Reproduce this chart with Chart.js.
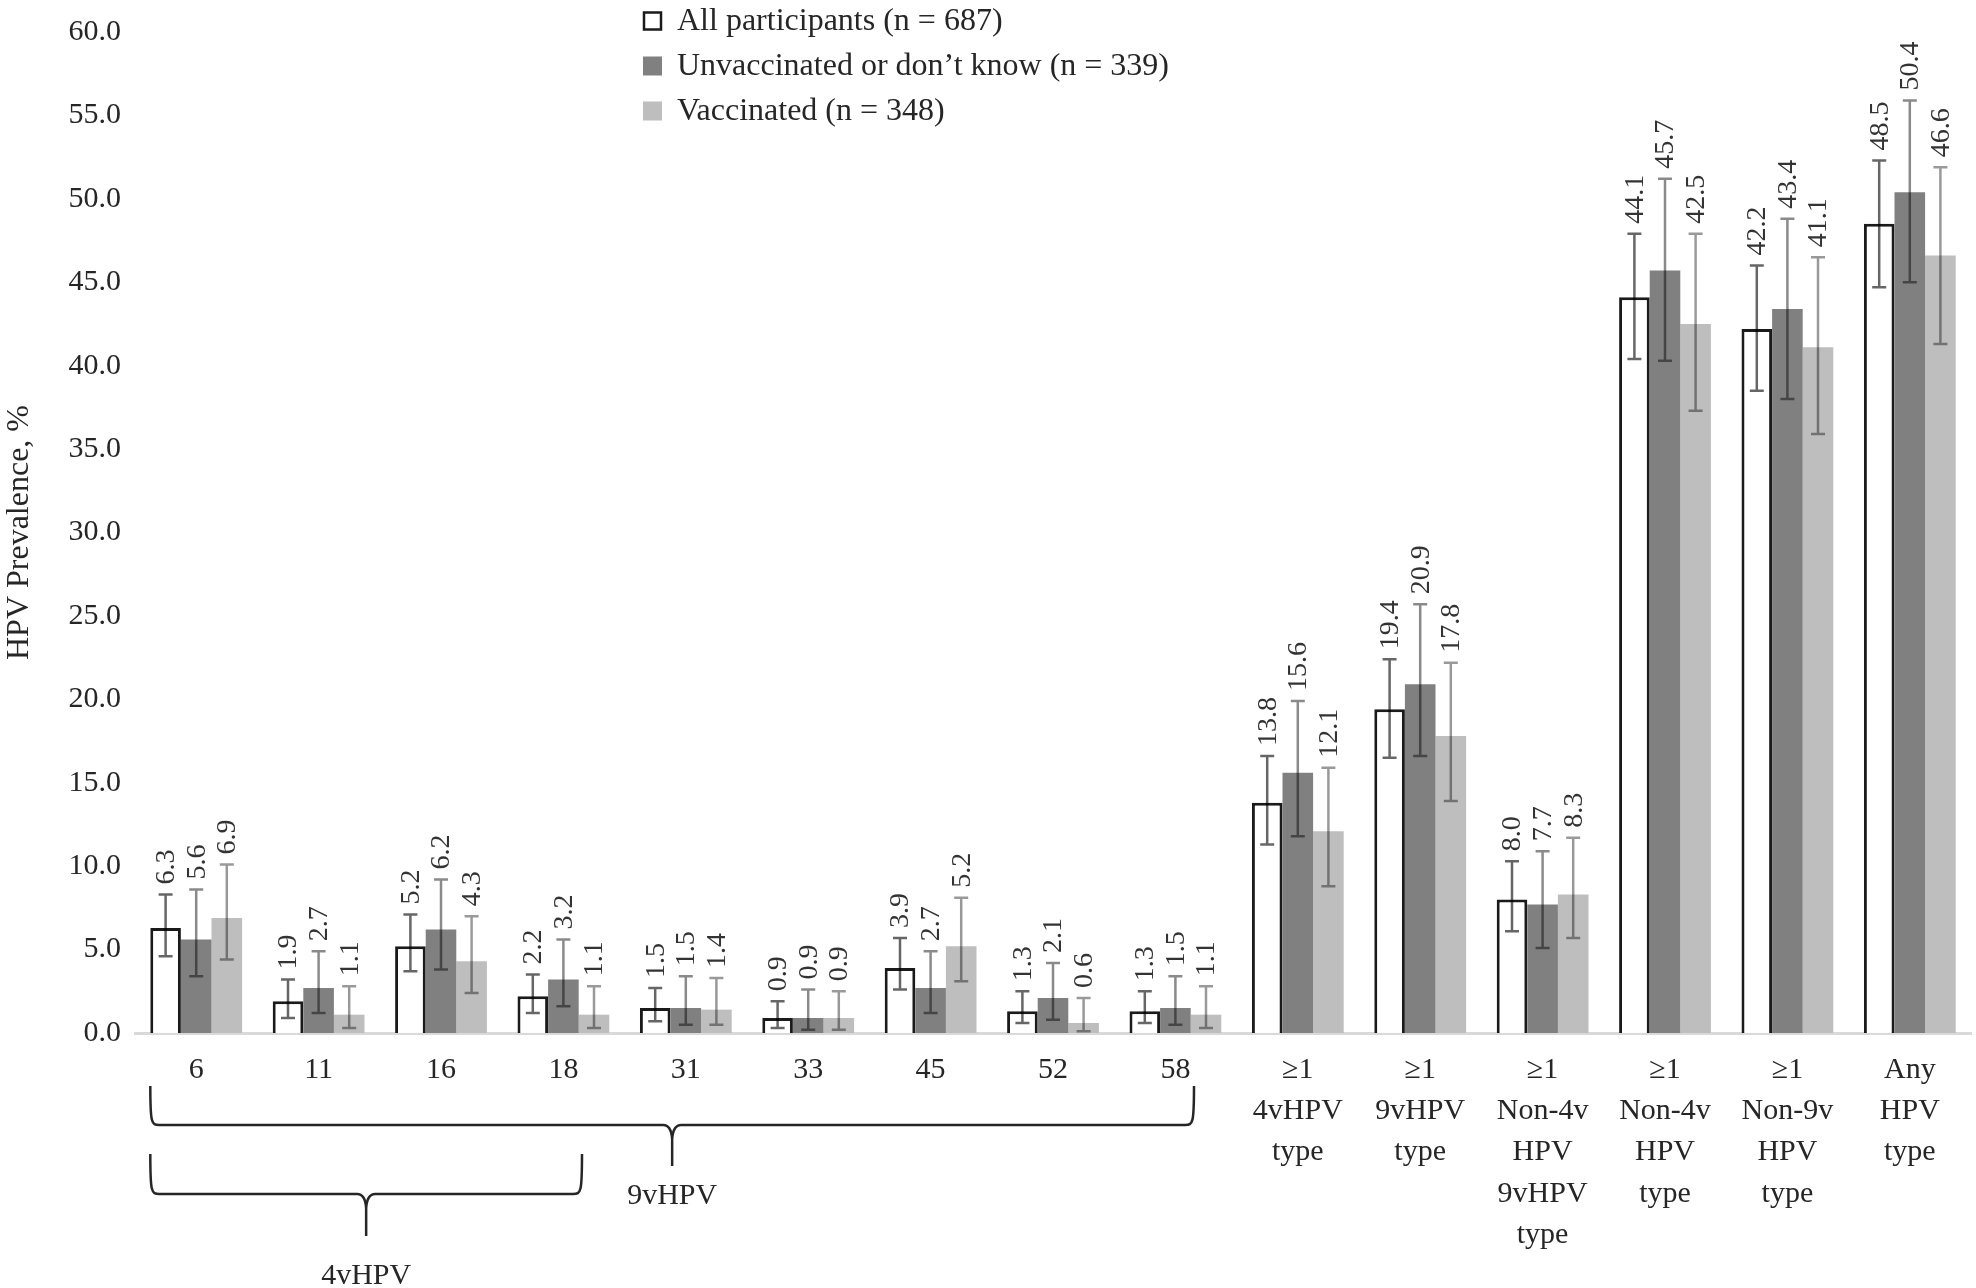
<!DOCTYPE html>
<html>
<head>
<meta charset="utf-8">
<script src="https://cdn.jsdelivr.net/npm/chart.js@4.4.1/dist/chart.umd.min.js"></script>
<style>
html, body { margin: 0; padding: 0; background: #fff; }
</style>
</head>
<body>
<canvas id="chart" width="1976" height="1288"></canvas>
<script>
// categories (multi-line labels as arrays)
const categories = ["6", "11", "16", "18", "31", "33", "45", "52", "58",
    ["≥1", "4vHPV", "type"], ["≥1", "9vHPV", "type"], ["≥1", "Non-4v", "HPV", "9vHPV", "type"],
    ["≥1", "Non-4v", "HPV", "type"], ["≥1", "Non-9v", "HPV", "type"], ["Any", "HPV", "type"]];

const seriesLabels = ["All participants (n = 687)", "Unvaccinated or don’t know (n = 339)", "Vaccinated (n = 348)"];

const allValues   = [6.3, 1.9, 5.2, 2.2, 1.5, 0.9, 3.9, 1.3, 1.3, 13.8, 19.4, 8.0, 44.1, 42.2, 48.5];
const allLow      = [4.6, 0.9, 3.7, 1.2, 0.7, 0.3, 2.6, 0.6, 0.6, 11.3, 16.5, 6.1, 40.4, 38.5, 44.7];
const allHigh     = [8.3, 3.2, 7.1, 3.5, 2.7, 1.9, 5.7, 2.5, 2.5, 16.6, 22.4, 10.3, 47.9, 46.0, 52.3];

const unvaxValues = [5.6, 2.7, 6.2, 3.2, 1.5, 0.9, 2.7, 2.1, 1.5, 15.6, 20.9, 7.7, 45.7, 43.4, 50.4];
const unvaxLow    = [3.4, 1.2, 3.8, 1.6, 0.5, 0.2, 1.2, 0.8, 0.5, 11.8, 16.6, 5.1, 40.3, 38.0, 45.0];
const unvaxHigh   = [8.6, 4.9, 9.2, 5.6, 3.4, 2.6, 4.9, 4.2, 3.4, 19.9, 25.7, 10.9, 51.2, 48.8, 55.9];

const vaxValues   = [6.9, 1.1, 4.3, 1.1, 1.4, 0.9, 5.2, 0.6, 1.1, 12.1, 17.8, 8.3, 42.5, 41.1, 46.6];
const vaxLow      = [4.4, 0.3, 2.4, 0.3, 0.5, 0.2, 3.1, 0.1, 0.3, 8.8, 13.9, 5.7, 37.3, 35.9, 41.3];
const vaxHigh     = [10.1, 2.8, 7.0, 2.8, 3.3, 2.5, 8.1, 2.1, 2.8, 15.9, 22.2, 11.7, 47.9, 46.5, 51.9];

const yTicksMax = 60;
const yTicksStep = 5;

const FONT = '"Liberation Serif", "DejaVu Serif", serif';
const TEXT = '#262626';

// error bars + rotated value labels
const errorBarPlugin = {
    id: 'errorBars',
    afterDatasetsDraw(chart) {
        const ctx = chart.ctx;
        const y = chart.scales.y;
        chart.data.datasets.forEach((ds, i) => {
            const meta = chart.getDatasetMeta(i);
            meta.data.forEach((bar, j) => {
                const lo = y.getPixelForValue(ds.ciLow[j]);
                const hi = y.getPixelForValue(ds.ciHigh[j]);
                ctx.save();
                ctx.strokeStyle = ds.errColor;
                ctx.lineWidth = 2.5;
                ctx.beginPath();
                ctx.moveTo(bar.x, lo); ctx.lineTo(bar.x, hi);
                ctx.moveTo(bar.x - 7, lo); ctx.lineTo(bar.x + 7, lo);
                ctx.moveTo(bar.x - 7, hi); ctx.lineTo(bar.x + 7, hi);
                ctx.stroke();
                ctx.translate(bar.x + 1, hi - 10);
                ctx.rotate(-Math.PI / 2);
                ctx.fillStyle = '#333333';
                ctx.font = '28px ' + FONT;
                ctx.textAlign = 'left';
                ctx.textBaseline = 'middle';
                ctx.fillText(ds.data[j].toFixed(1), 0, 0);
                ctx.restore();
            });
        });
    }
};

// curly braces under the type labels
function drawBrace(ctx, x1, x2, yTop, yMid, yTip) {
    const xm = (x1 + x2) / 2;
    ctx.beginPath();
    ctx.moveTo(x1, yTop);
    ctx.bezierCurveTo(x1, yMid - 2, x1 + 1, yMid, x1 + 9, yMid);
    ctx.lineTo(xm - 9, yMid);
    ctx.quadraticCurveTo(xm - 1, yMid, xm, yMid + 14);
    ctx.lineTo(xm, yTip);
    ctx.moveTo(xm, yMid + 14);
    ctx.quadraticCurveTo(xm + 1, yMid, xm + 9, yMid);
    ctx.lineTo(x2 - 9, yMid);
    ctx.bezierCurveTo(x2 - 1, yMid, x2, yMid - 2, x2, yTop);
    ctx.stroke();
}

const bracePlugin = {
    id: 'braces',
    afterDraw(chart) {
        const ctx = chart.ctx;
        const m0 = chart.getDatasetMeta(0).data;
        const m2 = chart.getDatasetMeta(2).data;
        const left = m0[0].x - m0[0].width / 2;
        ctx.save();
        ctx.strokeStyle = TEXT;
        ctx.lineWidth = 2.5;
        const r9 = m2[8].x - 12;
        const r4 = m2[3].x - 12;
        drawBrace(ctx, left, r9, 1086, 1125, 1166);
        drawBrace(ctx, left, r4, 1154, 1194, 1236);
        ctx.fillStyle = TEXT;
        ctx.font = '30px ' + FONT;
        ctx.textAlign = 'center';
        ctx.textBaseline = 'middle';
        ctx.fillText('9vHPV', (left + r9) / 2, 1196);
        ctx.fillText('4vHPV', (left + r4) / 2, 1276);
        ctx.restore();
    }
};

// legend stacked in three rows at top centre-left
const legendPlugin = {
    id: 'stackLegend',
    afterDraw(chart) {
        const ctx = chart.ctx;
        const x0 = 643, y0 = 21, gap = 45, box = 19;
        ctx.save();
        ctx.font = '32px ' + FONT;
        ctx.textBaseline = 'middle';
        chart.data.datasets.forEach((ds, i) => {
            const yc = y0 + i * gap;
            ctx.fillStyle = ds.backgroundColor;
            ctx.fillRect(x0, yc - box / 2, box, box);
            if (ds.borderWidth) {
                ctx.strokeStyle = ds.borderColor;
                ctx.lineWidth = 2.5;
                ctx.strokeRect(x0 + 1, yc - box / 2 + 1, box - 2, box - 2);
            }
            ctx.fillStyle = TEXT;
            ctx.fillText(ds.label, x0 + 34, yc + 1);
        });
        ctx.restore();
    }
};

new Chart(document.getElementById('chart'), {
    type: 'bar',
    data: {
        labels: categories,
        datasets: [
            {
                label: seriesLabels[0],
                data: allValues, ciLow: allLow, ciHigh: allHigh,
                backgroundColor: '#ffffff', borderColor: '#1a1a1a', borderWidth: 3,
                errColor: 'rgba(0,0,0,0.6)'
            },
            {
                label: seriesLabels[1],
                data: unvaxValues, ciLow: unvaxLow, ciHigh: unvaxHigh,
                backgroundColor: '#808080', borderWidth: 0,
                errColor: 'rgba(0,0,0,0.46)'
            },
            {
                label: seriesLabels[2],
                data: vaxValues, ciLow: vaxLow, ciHigh: vaxHigh,
                backgroundColor: '#bebebe', borderWidth: 0,
                errColor: 'rgba(0,0,0,0.4)'
            }
        ]
    },
    options: {
        responsive: false,
        animation: false,
        layout: { padding: { top: 17, right: 5, left: 0, bottom: 0 } },
        datasets: { bar: { categoryPercentage: 0.75, barPercentage: 1.0 } },
        plugins: {
            legend: { display: false },
            tooltip: { enabled: false }
        },
        scales: {
            x: {
                grid: { display: false, drawTicks: false },
                border: { display: true, color: '#d9d9d9', width: 3 },
                ticks: {
                    color: TEXT, padding: 16, maxRotation: 0, autoSkip: false,
                    font: { family: FONT, size: 30, lineHeight: 1.38 }
                },
                afterFit(scale) { scale.height = 255; }
            },
            y: {
                min: 0, max: yTicksMax,
                grid: { display: false, drawTicks: false },
                border: { display: false },
                ticks: {
                    stepSize: yTicksStep, padding: 14, color: TEXT,
                    font: { family: FONT, size: 30 },
                    callback: v => v.toFixed(1)
                },
                title: {
                    display: true, text: 'HPV Prevalence, %', color: TEXT,
                    font: { family: FONT, size: 32 }, padding: { top: 0, bottom: 0 }
                },
                afterFit(scale) { scale.width = 135; }
            }
        }
    },
    plugins: [errorBarPlugin, bracePlugin, legendPlugin]
});
</script>
</body>
</html>
